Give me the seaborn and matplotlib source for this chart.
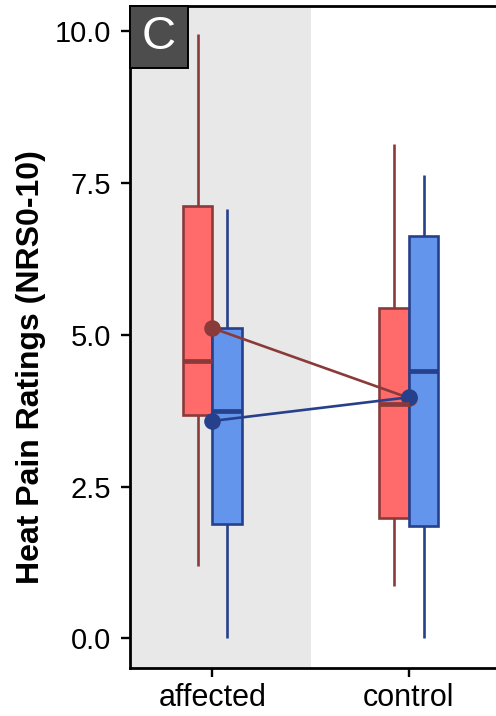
import numpy as np
import pandas as pd
import matplotlib
matplotlib.use("Agg")
import matplotlib.pyplot as plt
from matplotlib.patches import Rectangle
import seaborn as sns

# Box summary statistics per site (min, Q1, median, Q3, max) and means
categories = ["affected", "control"]
conditions = ["stimulus A", "stimulus B"]

a_min = [1.19, 0.86]
a_q1 = [3.67, 1.98]
a_med = [4.56, 3.86]
a_q3 = [7.12, 5.44]
a_max = [9.95, 8.14]
a_mean = [5.11, 3.96]

b_min = [0.0, 0.0]
b_q1 = [1.88, 1.85]
b_med = [3.74, 4.40]
b_q3 = [5.11, 6.62]
b_max = [7.07, 7.63]
b_mean = [3.58, 3.97]

y_ticks = [0.0, 2.5, 5.0, 7.5, 10.0]

fill_colors = ["#FF6A6A", "#6495ED"]
edge_colors = ["#8B3A3A", "#27408B"]

# Five values per box reproduce its quartiles exactly (whiskers span min..max)
rows = []
stats = {conditions[0]: (a_min, a_q1, a_med, a_q3, a_max),
         conditions[1]: (b_min, b_q1, b_med, b_q3, b_max)}
for cond, arrs in stats.items():
    for i, cat in enumerate(categories):
        for arr in arrs:
            rows.append({"site": cat, "condition": cond, "rating": arr[i]})
df = pd.DataFrame(rows)

means = pd.DataFrame({
    "site": categories * 2,
    "condition": [conditions[0]] * 2 + [conditions[1]] * 2,
    "rating": a_mean + b_mean,
})

sns.set_style("ticks")
plt.rcParams["font.family"] = ["Liberation Sans", "DejaVu Sans"]
plt.rcParams["text.color"] = "black"
plt.rcParams["axes.labelcolor"] = "black"

fig = plt.figure(figsize=(4.96, 7.16), dpi=100)
ax = fig.add_axes([0.262, 0.067, 0.738, 0.925])

xlim = (-0.42, 1.444)
ax.axvspan(xlim[0], 0.5, color="#E8E8E8", zorder=0, lw=0)

sns.boxplot(data=df, x="site", y="rating", hue="condition",
            order=categories, hue_order=conditions,
            palette=fill_colors, width=0.3, gap=0, whis=(0, 100),
            linewidth=1.6, fliersize=0, legend=False, ax=ax)

for k, cont in enumerate(ax.containers):
    ec = edge_colors[k]
    for box in cont.boxes:
        box.set_edgecolor(ec)
        box.set_facecolor(fill_colors[k])
        box.set_linewidth(1.9)
        box.set_alpha(1)
    for ln in list(cont.whiskers) + list(cont.caps):
        ln.set_color(ec)
        ln.set_linewidth(1.9)
    for ln in cont.caps:
        ln.set_visible(False)
    for ln in cont.medians:
        ln.set_color(ec)
        ln.set_linewidth(3.4)

sns.pointplot(data=means, x="site", y="rating", hue="condition",
              order=categories, hue_order=conditions,
              palette=edge_colors, dodge=False, markers="o",
              markersize=10.5, linewidth=1.9, errorbar=None,
              legend=False, ax=ax)

ax.set_xlim(*xlim)
ax.set_ylim(-0.49, 10.42)
ax.set_yticks(y_ticks)
ax.set_yticklabels([f"{v:.1f}" for v in y_ticks])
ax.set_xlabel("")
ax.set_ylabel("Heat Pain Ratings (NRS0-10)", fontsize=23, fontweight="bold",
              color="black")
ax.yaxis.set_label_coords(-0.23, 0.455)

for side in ["left", "bottom", "top"]:
    ax.spines[side].set_visible(True)
    ax.spines[side].set_color("black")
    ax.spines[side].set_linewidth(2.0)
ax.spines["right"].set_visible(False)
ax.tick_params(axis="both", length=6.5, width=1.7, color="black",
               labelcolor="black", direction="out")
ax.tick_params(axis="y", pad=7, labelsize=21)
ax.tick_params(axis="x", pad=4, labelsize=22)

# Panel letter
ax.add_patch(Rectangle((0, 1 - 0.094), 0.158, 0.094, transform=ax.transAxes,
                       facecolor="#4D4D4D", edgecolor="black", lw=1.4,
                       zorder=10, clip_on=False))
ax.text(0.079, 1 - 0.047, "C", transform=ax.transAxes, ha="center",
        va="center", color="white", fontsize=34, zorder=11)

fig.savefig("out.png", dpi=100)
